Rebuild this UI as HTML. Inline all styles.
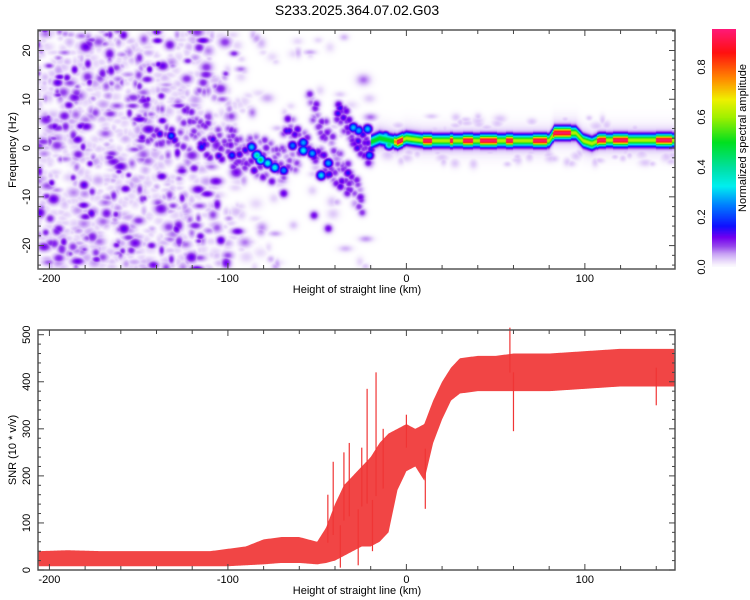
<!DOCTYPE html>
<html><head><meta charset="utf-8"><style>
body{margin:0;background:#fff;width:750px;height:600px;overflow:hidden;font-family:"Liberation Sans",sans-serif;}
#wrap{position:relative;width:750px;height:600px;}
canvas{position:absolute;}
svg{position:absolute;left:0;top:0;}
</style></head><body>
<div id="wrap">
<canvas id="spec" width="637" height="239" style="left:38px;top:30px"></canvas>
<canvas id="cbar" width="24" height="238" style="left:712px;top:29px"></canvas>
<svg id="svg" width="750" height="600">
<text x="357" y="15" font-size="14" text-anchor="middle">S233.2025.364.07.02.G03</text>
</svg>
</div>
<script>
// ---- data: SNR envelope ----
const snrKm   =[-206,-190,-170,-150,-130,-110,-100,-90,-80,-70,-60,-50,-45,-40,-35,-30,-25,-20,-15,-10,-5,0,5,10,15,20,25,30,40,50,60,80,100,120,140,150];
const snrLow  =[8,8,8,8,8,8,8,10,12,15,15,12,15,20,30,40,50,50,60,80,170,210,220,190,270,320,360,375,380,380,380,380,385,390,390,390];
const snrHigh =[40,42,40,40,40,40,45,50,65,70,70,60,90,140,180,200,220,240,270,290,300,310,300,310,360,400,430,450,455,455,460,460,465,470,470,470];
const spikeKm =[-17,-22,-35,-25,-13,0,58,60,10.6,-27,-19,-37,140,-32,-41,-44];
const spikeVal=[420,385,250,260,300,330,515,295,130,10,40,5,350,270,230,160];
// ---- data: spectrogram ridge ----
const ridgeKm =[-20,-15,-10,-5,0,10,50,80,83,95,99,104,108,150];
const ridgeF  =[1.2,2.0,1.6,1.2,2.0,1.5,1.5,1.5,3.1,3.1,1.5,0.9,1.6,1.6];
const dashStart=[-7,9.5,24.6,32,41,56,71,82,107,116,140];
const dashEnd  =[-2,14.5,26,37.5,51,60,79,92,112,124,149];
// ---- data: chirp blobs [km, Hz, amp] ----
const blobKm =[-132,-115,-98,-87,-84,-82,-78,-74,-69,-69,-64,-58,-58,-53,-48,-44,-33,-30,-27,-22,-21,-26,-52,-44,-10,-12];
const blobF  =[2.6,0.3,-1.4,0.3,-1.4,-2.3,-3,-3.9,-4.5,-9.2,0.6,1.2,-0.4,-1,-5.5,-3,-5,4.3,3.7,4,-1.4,-10,-13.7,-16.4,0.8,2.5];
const blobAmp=[0.22,0.18,0.2,0.3,0.4,0.45,0.35,0.35,0.25,0.13,0.24,0.28,0.34,0.28,0.32,0.28,0.16,0.3,0.28,0.3,0.25,0.12,0.12,0.12,0.45,0.35];
// ---- data: chirp streaks ----
const streakKm0=[-150,-69,-39,-100,-55,-125];
const streakF0 =[4.5,5,7.8,2,10,6];
const streakKm1=[-69,-31,-20,-60,-25,-90];
const streakF1 =[-5.1,-8,-1.8,-3,-11,-2];
const streakAmp=[0.14,0.14,0.14,0.1,0.1,0.1];
// ---- data: background noise density (blobs per 10 km bin from -210) ----
const noiseBinKm=[-210,-200,-190,-180,-170,-160,-150,-140,-130,-120,-110,-100,-90,-80,-70,-60,-50,-40,-30,-20,-10,0,10,20,30,40,50,60,70,80,90,100,110,120,130,140];
const noiseCount=[100,120,120,120,120,120,115,110,100,80,60,40,20,14,10,9,9,8,8,6,6,6,6,6,6,6,6,6,6,6,6,6,6,6,6,6];
const cbarTicks=[0,0.2,0.4,0.6,0.8];
const xTicks=[-200,-100,0,100];
const fTicks=[-20,-10,0,10,20];
const snrTicks=[0,100,200,300,400,500];

// ---- scales ----
const X0=38,X1=675,KM0=-206.4,KM1=150.5;
const xs=k=>X0+(k-KM0)/(KM1-KM0)*(X1-X0);
const T0=30,T1=269,F0=-24.8,F1=24.2;
const yf=f=>T1-(f-F0)/(F1-F0)*(T1-T0);
const B0=330,B1=570,S0=0,S1=510;
const ys=v=>B1-(v-S0)/(S1-S0)*(B1-B0);
const interp=(xa,ya,x)=>{if(x<=xa[0])return ya[0];for(let i=1;i<xa.length;i++){if(x<=xa[i]){const t=(x-xa[i-1])/(xa[i]-xa[i-1]);return ya[i-1]+t*(ya[i]-ya[i-1]);}}return ya[ya.length-1];};
const hsh=i=>{const s=Math.sin(i*12.9898+78.233)*43758.5453;return s-Math.floor(s);};

// ---- colormap ----
const cs=[[0,[255,255,255]],[0.012,[246,240,253]],[0.03,[228,210,250]],[0.055,[200,160,245]],[0.085,[150,70,236]],[0.12,[115,0,240]],[0.165,[16,16,255]],[0.25,[0,128,255]],[0.325,[0,240,240]],[0.4,[0,224,160]],[0.5,[0,224,32]],[0.6,[160,240,0]],[0.672,[240,240,0]],[0.75,[255,144,0]],[0.859,[255,16,16]],[0.96,[255,26,128]]];
function cmap(v){if(v<=0)return cs[0][1];for(let i=1;i<cs.length;i++){if(v<=cs[i][0]){const t=(v-cs[i-1][0])/(cs[i][0]-cs[i-1][0]);const a=cs[i-1][1],b=cs[i][1];return [a[0]+t*(b[0]-a[0]),a[1]+t*(b[1]-a[1]),a[2]+t*(b[2]-a[2])];}}return cs[cs.length-1][1];}

// ---- spectrogram ----
const W=637,H=239,fld=new Float32Array(W*H);
function addBlob(px,py,sx,sy,a,useMax){const x0=Math.max(0,Math.floor(px-3*sx)),x1=Math.min(W-1,Math.ceil(px+3*sx)),y0=Math.max(0,Math.floor(py-3*sy)),y1=Math.min(H-1,Math.ceil(py+3*sy));
for(let y=y0;y<=y1;y++){const dy=(y-py)/sy;for(let x=x0;x<=x1;x++){const dx=(x-px)/sx;const v=a*Math.exp(-0.5*(dx*dx+dy*dy));const i=y*W+x;
 if(useMax){if(v>fld[i])fld[i]=v;}else fld[i]+=v;}}}
let seed=1;
noiseBinKm.forEach((k,bi)=>{for(let j=0;j<noiseCount[bi];j++){const r1=hsh(seed++),r2=hsh(seed++),r3=hsh(seed++),r4=hsh(seed++);
 const km=k+10*r1;let f=F0+(F1-F0)*r2;if(k>=-20)f=1.6+(r2-0.5)*10;
 let a=0.028+0.11*Math.pow(r3,4);if(k>=-90)a=0.025+0.05*Math.pow(r3,3);if(k>=-20)a=0.035;
 addBlob(xs(km)-X0,yf(f)-T0,2.2+3*r4,2+2.2*hsh(seed++),a,true);}});
streakKm0.forEach((k0,i)=>{const n=50;for(let j=0;j<n;j++){const t=j/(n-1);const km=k0+t*(streakKm1[i]-k0),f=streakF0[i]+t*(streakF1[i]-streakF0[i])+(hsh(seed++)-0.5)*5;
 addBlob(xs(km)-X0,yf(f)-T0,3,3,streakAmp[i]*(0.45+0.7*hsh(seed++)),true);}});
blobKm.forEach((k,i)=>addBlob(xs(k)-X0,yf(blobF[i])-T0,3.2,3.2,blobAmp[i],true));
for(let x=0;x<W;x++){const km=KM0+(x+0.5)/W*(KM1-KM0);if(km<ridgeKm[0])continue;
 const fc=interp(ridgeKm,ridgeF,km);let a=0.58;
 for(let d=0;d<dashStart.length;d++){if(km>=dashStart[d]&&km<=dashEnd[d]){a=0.9;break;}}
 if(km<-5)a*=0.8;
 for(let y=0;y<H;y++){const f=F1-(y+0.5)/H*(F1-F0);const d=f-fc;
  const v=a*Math.exp(-0.5*d*d/0.55)+0.045*Math.exp(-0.5*d*d/4);const i=y*W+x;if(v>fld[i])fld[i]=v;}}
const ctx=document.getElementById('spec').getContext('2d');const img=ctx.createImageData(W,H);
for(let i=0;i<W*H;i++){const c=cmap(Math.min(0.955,fld[i]));img.data[i*4]=c[0];img.data[i*4+1]=c[1];img.data[i*4+2]=c[2];img.data[i*4+3]=255;}
ctx.putImageData(img,0,0);
// colorbar
const cc=document.getElementById('cbar').getContext('2d');
for(let y=0;y<238;y++){const v=(267-(29+y))*0.004;const c=cmap(Math.max(0.005,v));cc.fillStyle=`rgb(${c[0]|0},${c[1]|0},${c[2]|0})`;cc.fillRect(0,y,24,1);}

// ---- SVG axes ----
const svg=document.getElementById('svg'),NS='http://www.w3.org/2000/svg';
function el(t,a,p){const e=document.createElementNS(NS,t);for(const k in a)e.setAttribute(k,a[k]);(p||svg).appendChild(e);return e;}
const gs=el('g',{});
let pts=[];for(let k=KM0;k<=KM1;k+=0.5)pts.push(xs(k)+','+ys(interp(snrKm,snrHigh,k)));
for(let k=KM1;k>=KM0;k-=0.5)pts.push(xs(k)+','+ys(interp(snrKm,snrLow,k)));
const band=el('polygon',{points:pts.join(' '),fill:'#f03535','fill-opacity':'0.92'},gs);

spikeKm.forEach((k,i)=>{const mid=(interp(snrKm,snrLow,k)+interp(snrKm,snrHigh,k))/2;
 const s=el('line',{x1:xs(k),x2:xs(k),y1:ys(mid),y2:ys(spikeVal[i]),stroke:'#f03535','stroke-width':1.2},gs);
 });
function frame(top,bot,name){const r=el('rect',{x:X0,y:top,width:X1-X0,height:bot-top,fill:'none',stroke:'#555','stroke-width':1.5});
 }
frame(T0,T1,'spectrogram-frame');frame(B0,B1,'snr-frame');
function xaxis(top,bot,nm){for(let k=-200;k<=150;k+=20){const x=xs(k),L=(k%100===0)?6:4;
 el('line',{x1:x,x2:x,y1:bot,y2:bot-L,stroke:'#444'});el('line',{x1:x,x2:x,y1:top,y2:top+L,stroke:'#444'});}
 xTicks.forEach(k=>{const t=el('text',{x:xs(k),y:bot+13,'font-size':11,'text-anchor':'middle'});t.textContent=k;
  });
 const t=el('text',{x:357,y:bot+24,'font-size':11,'text-anchor':'middle'});t.textContent='Height of straight line (km)';
 }
xaxis(T0,T1,'spectrogram');xaxis(B0,B1,'snr');
for(let f=-24;f<=24;f+=2){const y=yf(f),L=(f%10===0)?6:3;el('line',{x1:X0,x2:X0+L,y1:y,y2:y,stroke:'#444'});el('line',{x1:X1,x2:X1-L,y1:y,y2:y,stroke:'#444'});}
fTicks.forEach(f=>{const t=el('text',{transform:`translate(30,${yf(f)}) rotate(-90)`,'font-size':11,'text-anchor':'middle'});t.textContent=f;
 });
let t=el('text',{transform:'translate(16,150) rotate(-90)','font-size':11,'text-anchor':'middle'});t.textContent='Frequency (Hz)';

for(let v=0;v<=500;v+=20){const y=ys(v),L=(v%100===0)?6:3;el('line',{x1:X0,x2:X0+L,y1:y,y2:y,stroke:'#444'});el('line',{x1:X1,x2:X1-L,y1:y,y2:y,stroke:'#444'});}
snrTicks.forEach(v=>{const t=el('text',{transform:`translate(30,${ys(v)}) rotate(-90)`,'font-size':11,'text-anchor':'middle'});t.textContent=v;
 });
t=el('text',{transform:'translate(16,450) rotate(-90)','font-size':11,'text-anchor':'middle'});t.textContent='SNR (10 * v/v)';

cbarTicks.forEach(v=>{const y=267-v/0.004;const t=el('text',{transform:`translate(705,${y}) rotate(-90)`,'font-size':11,'text-anchor':'middle'});t.textContent=v.toFixed(1);
 });
t=el('text',{transform:'translate(746,138) rotate(-90)','font-size':11,'text-anchor':'middle'});t.textContent='Normalized spectral amplitude';

</script>
</body></html>
